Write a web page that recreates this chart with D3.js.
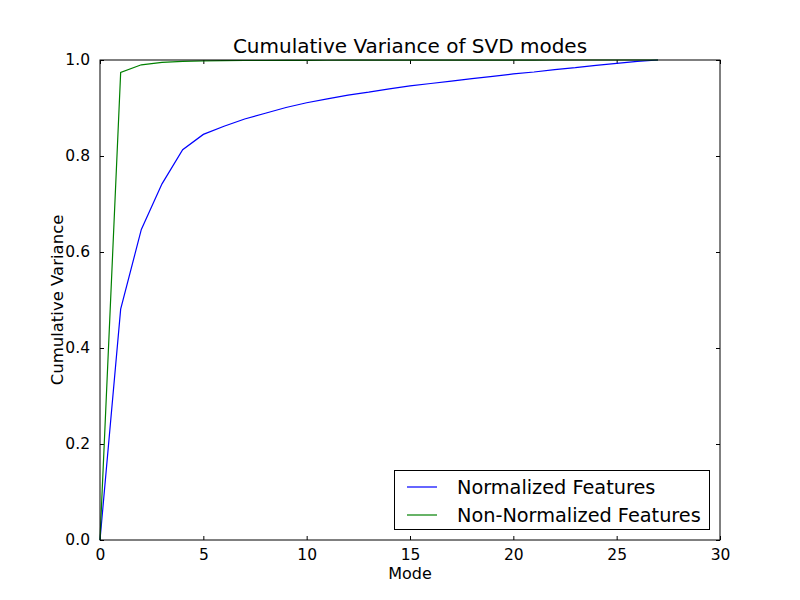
<!DOCTYPE html>
<html>
<head>
<meta charset="utf-8">
<script src="https://cdn.jsdelivr.net/npm/d3@7"></script>
<style>
  body { margin: 0; background: #fff; }
  svg { font-family: "DejaVu Sans", sans-serif; }
</style>
</head>
<body>
<div class="chart"></div>
<script>
// cumulative variance per mode
const modes = d3.range(0, 28);
const normalized = [0, 0.481, 0.647, 0.742, 0.813, 0.845, 0.862, 0.877, 0.889, 0.901,
  0.911, 0.919, 0.927, 0.933, 0.940, 0.946, 0.951, 0.956, 0.961, 0.966,
  0.971, 0.975, 0.980, 0.984, 0.989, 0.993, 0.997, 1.0];
const nonNormalized = [0, 0.974, 0.990, 0.995, 0.997, 0.998, 0.9985, 0.999, 0.999, 0.9992,
  0.9994, 0.9995, 0.9996, 0.9997, 0.9997, 0.9998, 0.9998, 0.9998, 0.9999, 0.9999,
  0.9999, 0.9999, 1.0, 1.0, 1.0, 1.0, 1.0, 1.0];
const seriesNames = ["Normalized Features", "Non-Normalized Features"];
const seriesColors = ["#0000ff", "#008000"];
const xTicks = [0, 5, 10, 15, 20, 25, 30];
const yTicks = [0, 0.2, 0.4, 0.6, 0.8, 1.0];

const width = 800, height = 600;
const margin = {top: 60, right: 80, bottom: 60, left: 100};

const svg = d3.select(".chart").append("svg")
    .attr("width", width)
    .attr("height", height);

const xScale = d3.scaleLinear()
    .domain([0, 30])
    .range([margin.left, width - margin.right]);

const yScale = d3.scaleLinear()
    .domain([0, 1])
    .range([height - margin.bottom, margin.top]);

// axes, ticks pointing inward like matplotlib
const xAxis = d3.axisBottom(xScale).tickValues(xTicks).tickFormat(d3.format("d"))
    .tickSizeInner(-4).tickSizeOuter(0).tickPadding(9);
const yAxis = d3.axisLeft(yScale).tickValues(yTicks).tickFormat(d3.format(".1f"))
    .tickSizeInner(-4).tickSizeOuter(0).tickPadding(10);

svg.append("g")
    .attr("transform", `translate(0, ${height - margin.bottom})`)
    .call(xAxis)
    .call(g => g.select(".domain").remove())
    .call(g => g.selectAll("text").attr("font-size", 15.5).attr("fill", "#000").attr("font-family", "DejaVu Sans"));

svg.append("g")
    .attr("transform", `translate(${margin.left}, 0)`)
    .call(yAxis)
    .call(g => g.select(".domain").remove())
    .call(g => g.selectAll("text").attr("font-size", 15.5).attr("fill", "#000").attr("font-family", "DejaVu Sans"));

// top and right ticks
svg.append("g")
    .attr("transform", `translate(0, ${margin.top})`)
    .call(d3.axisTop(xScale).tickValues(xTicks).tickSizeInner(-4).tickSizeOuter(0).tickFormat(""))
    .call(g => g.select(".domain").remove());

svg.append("g")
    .attr("transform", `translate(${width - margin.right}, 0)`)
    .call(d3.axisRight(yScale).tickValues(yTicks).tickSizeInner(-4).tickSizeOuter(0).tickFormat(""))
    .call(g => g.select(".domain").remove());

const line = d3.line()
    .x((d, i) => xScale(modes[i]))
    .y(d => yScale(d));

[normalized, nonNormalized].forEach((s, i) => {
    svg.append("path")
        .datum(s)
        .attr("fill", "none")
        .attr("stroke", seriesColors[i])
        .attr("stroke-width", 1.2)
        .attr("d", line);
});

// frame
svg.append("rect")
    .attr("x", margin.left)
    .attr("y", margin.top)
    .attr("width", width - margin.left - margin.right)
    .attr("height", height - margin.top - margin.bottom)
    .attr("fill", "none")
    .attr("stroke", "#000")
    .attr("stroke-width", 1);

svg.append("text")
    .attr("x", (margin.left + width - margin.right) / 2)
    .attr("y", 53)
    .attr("text-anchor", "middle")
    .attr("font-size", 20)
    .text("Cumulative Variance of SVD modes");

svg.append("text")
    .attr("x", (margin.left + width - margin.right) / 2)
    .attr("y", 578.5)
    .attr("text-anchor", "middle")
    .attr("font-size", 16)
    .text("Mode");

svg.append("text")
    .attr("transform", `translate(63, ${(margin.top + height - margin.bottom) / 2}) rotate(-90)`)
    .attr("text-anchor", "middle")
    .attr("font-size", 16.5)
    .text("Cumulative Variance");

// legend
const legend = svg.append("g");
legend.append("rect")
    .attr("x", 394.5).attr("y", 470.5)
    .attr("width", 315).attr("height", 59)
    .attr("fill", "#fff").attr("stroke", "#000");

seriesNames.forEach((name, i) => {
    const y = 487 + i * 28;
    legend.append("line")
        .attr("x1", 407).attr("x2", 437)
        .attr("y1", y).attr("y2", y)
        .attr("stroke", seriesColors[i]).attr("stroke-width", 1.2);
    legend.append("text")
        .attr("x", 457).attr("y", y)
        .attr("dy", "0.35em")
        .attr("font-size", 19.3)
        .text(name);
});
</script>
</body>
</html>
